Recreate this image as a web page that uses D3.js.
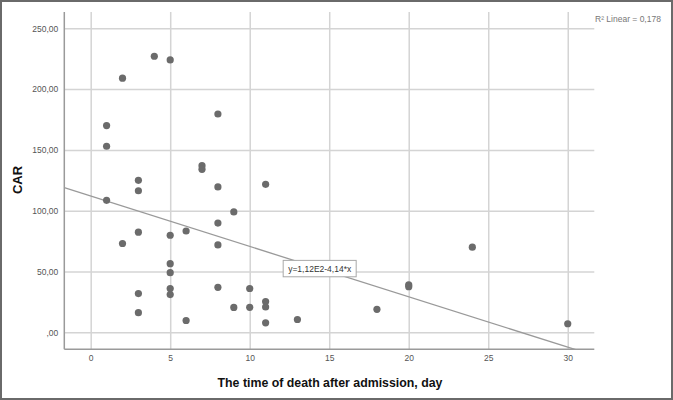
<!DOCTYPE html>
<html>
<head>
<meta charset="utf-8">
<script src="https://cdn.jsdelivr.net/npm/d3@7"></script>
<style>
  body { margin: 0; background: #fff; }
  svg { display: block; font-family: "Liberation Sans", Arial, sans-serif; }
</style>
</head>
<body>
<div id="my_dataviz"></div>
<script>
// days after admission (x) and CAR (y) for each patient
var days = [1, 1, 1, 2, 2, 3, 3, 3, 3, 3, 4, 5, 5, 5, 5, 5, 5, 6, 6, 7, 7,
            8, 8, 8, 8, 8, 9, 9, 10, 10, 11, 11, 11, 11, 13, 18, 20, 20, 24, 30];
var car = [170, 153, 108.5, 209, 73, 125, 116.4, 82.3, 31.8, 16.1, 227,
           224, 79.8, 56.4, 49, 36, 31, 83.3, 9.7, 137, 134,
           179.5, 119.5, 89.8, 71.8, 37, 99, 20.4, 36, 20.5,
           121.7, 25.3, 20.8, 7.8, 10.5, 18.9, 39, 37.5, 70, 7];

// fit line from the SPSS output
var intercept = 112;
var slope = -4.14;
var fitLabel = "y=1,12E2-4,14*x";
var r2Label = "R² Linear = 0,178";

// tick values and the labels SPSS prints for them
var xTicks = [0, 5, 10, 15, 20, 25, 30];
var xTickLabels = ["0", "5", "10", "15", "20", "25", "30"];
var yTicks = [0, 50, 100, 150, 200, 250];
var yTickLabels = [",00", "50,00", "100,00", "150,00", "200,00", "250,00"];

var W = 673, H = 400;
var plot = {left: 64.3, right: 594.3, top: 12, bottom: 349.3};

var svg = d3.select("#my_dataviz")
  .append("svg")
    .attr("width", W)
    .attr("height", H);

// outer frame of the picture
svg.append("rect")
  .attr("x", 1).attr("y", 1)
  .attr("width", W - 2).attr("height", H - 2)
  .attr("fill", "#fff")
  .attr("stroke", "#6a6a6a")
  .attr("stroke-width", 2);

var x = d3.scaleLinear()
  .domain([-1.66, 31.67])
  .range([plot.left, plot.right]);

var y = d3.scaleLinear()
  .domain([-14, 263.4])
  .range([plot.bottom, plot.top]);

// grid lines
svg.append("g")
  .attr("transform", "translate(0," + plot.bottom + ")")
  .call(d3.axisBottom(x).tickValues(xTicks).tickSize(-(plot.bottom - plot.top)).tickFormat(""))
  .call(function(g) { g.select(".domain").remove(); })
  .selectAll("line")
    .attr("stroke", "#d4d4d4")
    .attr("stroke-width", 1.5);

svg.append("g")
  .attr("transform", "translate(" + plot.left + ",0)")
  .call(d3.axisLeft(y).tickValues(yTicks).tickSize(-(plot.right - plot.left)).tickFormat(""))
  .call(function(g) { g.select(".domain").remove(); })
  .selectAll("line")
    .attr("stroke", "#d4d4d4")
    .attr("stroke-width", 1.5);

// X axis
var xAxis = svg.append("g")
  .attr("transform", "translate(0," + plot.bottom + ")")
  .call(d3.axisBottom(x).tickValues(xTicks).tickSize(0).tickPadding(6)
    .tickFormat(function(d, i) { return xTickLabels[i]; }));
xAxis.select(".domain")
  .attr("stroke", "#9a9a9a")
  .attr("stroke-width", 1.5)
  .attr("d", "M" + plot.left + ",0H" + plot.right);
xAxis.selectAll("text")
  .attr("fill", "#555")
  .style("font-size", "8.5px");

// Y axis
var yAxis = svg.append("g")
  .attr("transform", "translate(" + plot.left + ",0)")
  .call(d3.axisLeft(y).tickValues(yTicks).tickSize(0).tickPadding(6)
    .tickFormat(function(d, i) { return yTickLabels[i]; }));
yAxis.select(".domain")
  .attr("stroke", "#9a9a9a")
  .attr("stroke-width", 1.5)
  .attr("d", "M0," + plot.top + "V" + plot.bottom);
yAxis.selectAll("text")
  .attr("fill", "#555")
  .style("font-size", "8.5px");

// regression line, clipped to the plot area
svg.append("clipPath")
  .attr("id", "plotclip")
  .append("rect")
    .attr("x", plot.left).attr("y", plot.top)
    .attr("width", plot.right - plot.left)
    .attr("height", plot.bottom - plot.top);

var xd = x.domain();
svg.append("line")
  .attr("clip-path", "url(#plotclip)")
  .attr("x1", x(xd[0])).attr("y1", y(intercept + slope * xd[0]))
  .attr("x2", x(xd[1])).attr("y2", y(intercept + slope * xd[1]))
  .attr("stroke", "#9a9a9a")
  .attr("stroke-width", 1.3);

// points
var pts = days.map(function(d, i) { return {x: d, y: car[i]}; });
svg.selectAll("circle")
  .data(pts)
  .enter()
  .append("circle")
    .attr("cx", function(d) { return x(d.x); })
    .attr("cy", function(d) { return y(d.y); })
    .attr("r", 3.6)
    .attr("fill", "#6b6b6b");

// equation box sitting on the line
var lx = 14.4;
var label = svg.append("g")
  .attr("transform", "translate(" + x(lx) + "," + y(intercept + slope * lx) + ")");
label.append("rect")
  .attr("x", -36.5).attr("y", -8.2)
  .attr("width", 73).attr("height", 16.4)
  .attr("fill", "#fff")
  .attr("stroke", "#a8a8a8")
  .attr("stroke-width", 1);
label.append("text")
  .attr("text-anchor", "middle")
  .attr("y", 3)
  .attr("fill", "#333")
  .style("font-size", "8.5px")
  .text(fitLabel);

// R squared note
svg.append("text")
  .attr("x", 595)
  .attr("y", 22)
  .attr("fill", "#777")
  .style("font-size", "8.5px")
  .text(r2Label);

// axis titles
svg.append("text")
  .attr("transform", "translate(22,180)rotate(-90)")
  .attr("text-anchor", "middle")
  .attr("fill", "#111")
  .style("font-size", "13px")
  .style("font-weight", "bold")
  .text("CAR");

svg.append("text")
  .attr("x", 217.5)
  .attr("y", 386.5)
  .attr("textLength", 225)
  .attr("lengthAdjust", "spacingAndGlyphs")
  .attr("fill", "#111")
  .style("font-size", "13px")
  .style("font-weight", "bold")
  .text("The time of death after admission, day");
</script>
</body>
</html>
